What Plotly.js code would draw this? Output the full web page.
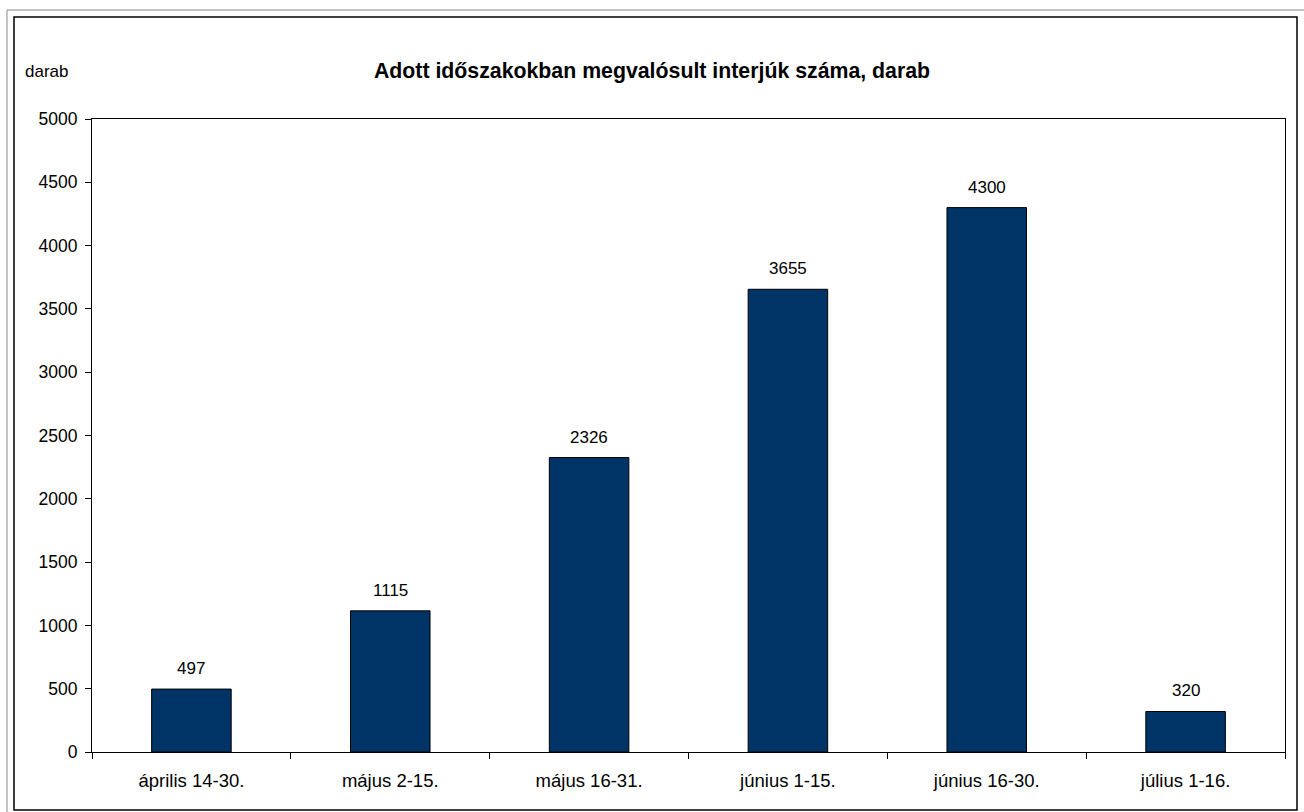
<!DOCTYPE html>
<html>
<head>
<meta charset="utf-8">
<script src="https://cdn.plot.ly/plotly-3.0.1.min.js"></script>
<style>
html,body{margin:0;padding:0;background:#fff;}
#chart{width:1304px;height:812px;}
</style>
</head>
<body>
<div id="chart"></div>
<script>
const categories = ["április 14-30.", "május 2-15.", "május 16-31.", "június 1-15.", "június 16-30.", "július 1-16."];
const values = [497, 1115, 2326, 3655, 4300, 320];
const yTicks = [0, 500, 1000, 1500, 2000, 2500, 3000, 3500, 4000, 4500, 5000];
const titleText = "Adott időszakokban megvalósult interjúk száma, darab";
const yUnit = "darab";

const font = "Arial, 'Liberation Sans', sans-serif";

const trace = {
  type: "bar",
  x: categories,
  y: values,
  marker: {color: "#003366", line: {color: "#000000", width: 1}},
  width: 0.4,
  hoverinfo: "x+y"
};

const annotations = categories.map((c, i) => ({
  x: c, y: values[i], xref: "x", yref: "y",
  text: String(values[i]), showarrow: false,
  yanchor: "bottom", yshift: 9,
  font: {family: font, size: 17, color: "#000"}
}));
annotations.push({
  xref: "paper", yref: "paper", x: 0, y: 1,
  xanchor: "left", yanchor: "middle",
  xshift: -69, yshift: 48,
  text: yUnit, showarrow: false,
  font: {family: font, size: 17, color: "#000"}
});

const layout = {
  width: 1304, height: 812,
  margin: {l: 92, r: 19, t: 119, b: 60},
  paper_bgcolor: "#fff", plot_bgcolor: "#fff",
  showlegend: false,
  font: {family: font, size: 17, color: "#000"},
  title: {
    text: "<b>" + titleText + "</b>",
    font: {family: font, size: 21.3, color: "#000"},
    xref: "container", x: 0.5, xanchor: "center",
    yref: "container", y: 1 - 71/812, yanchor: "middle"
  },
  xaxis: {
    type: "category",
    tickson: "boundaries",
    ticks: "outside", ticklen: 6, tickcolor: "#000", tickwidth: 1,
    ticklabelstandoff: 12,
    showline: true, linecolor: "#000", linewidth: 1, mirror: true,
    showgrid: false, zeroline: false,
    tickfont: {family: font, size: 18.5, color: "#000"}
  },
  yaxis: {
    range: [0, 5000],
    tickvals: yTicks,
    ticktext: yTicks.map(String),
    ticks: "outside", ticklen: 6, tickcolor: "#000", tickwidth: 1,
    ticklabelstandoff: 4,
    showline: true, linecolor: "#000", linewidth: 1, mirror: true,
    showgrid: false, zeroline: false,
    tickfont: {family: font, size: 17.5, color: "#000"}
  },
  annotations: annotations,
  shapes: [
    {type: "rect", xref: "paper", yref: "paper", layer: "below",
     x0: -85/1193, x1: 1300/1193, y0: (752-817)/633, y1: (752-10)/633,
     line: {color: "#888", width: 1}},
    {type: "rect", xref: "paper", yref: "paper", layer: "below",
     x0: -78/1193, x1: 1205/1193, y0: (752-810)/633, y1: (752-17)/633,
     line: {color: "#000", width: 1.5}}
  ]
};

Plotly.newPlot("chart", [trace], layout, {displayModeBar: false, staticPlot: true});
</script>
</body>
</html>
